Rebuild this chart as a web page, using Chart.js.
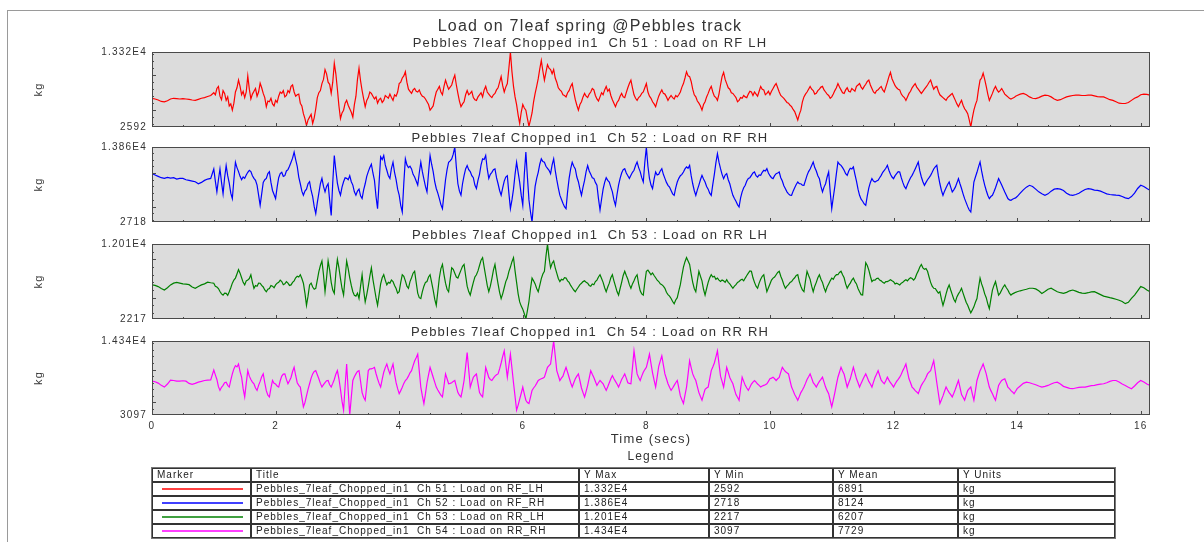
<!DOCTYPE html>
<html>
<head>
<meta charset="utf-8">
<title>Load on 7leaf spring @Pebbles track</title>
<script src="https://cdn.jsdelivr.net/npm/chart.js@4.4.1/dist/chart.umd.min.js"></script>
<style>
  body { margin: 0; width: 1204px; height: 542px; overflow: hidden; position: relative; background: #fff;
         font-family: 'Liberation Sans', Arial, sans-serif; color: #333; }
  #frame { position: absolute; left: 7px; top: 10px; width: 1300px; height: 600px;
           border-left: 1px solid #9a9a9a; border-top: 1px solid #9a9a9a; }
  .panel { position: absolute; left: 0; width: 1204px; }
  #legendTitle { position: absolute; left: 152px; top: 449px; width: 998px; text-align: center;
                 font-size: 12px; line-height: 14px; letter-spacing: 1.2px; }
  #stats { position: absolute; left: 151px; top: 467px; border-collapse: separate; border-spacing: 0;
           table-layout: fixed; border: 1px solid #777; font-size: 10px; letter-spacing: 1px; color: #222; }
  #stats td { border: 1px solid #333; height: 12px; line-height: 12px; padding: 0 0 0 4px;
              white-space: pre; overflow: hidden; }
  #stats svg { display: block; }
</style>
</head>
<body>
<div id="frame"></div>
<div class="panel" id="p0"><canvas id="c0"></canvas></div>
<div class="panel" id="p1"><canvas id="c1"></canvas></div>
<div class="panel" id="p2"><canvas id="c2"></canvas></div>
<div class="panel" id="p3"><canvas id="c3"></canvas></div>
<div id="legendTitle">Legend</div>
<table id="stats"></table>

<script>
// sample spacing of the logged channels (s)
var SAMPLE_STEP = 0.05;
// the *_mid arrays hold the in-between samples of the rough section, 1.025 s .. 13.975 s
var MID_START = 1.025;
var TIME_END = 16.15;
var timeTicks = [0, 0.5, 1, 1.5, 2, 2.5, 3, 3.5, 4, 4.5, 5, 5.5, 6, 6.5, 7, 7.5, 8,
                 8.5, 9, 9.5, 10, 10.5, 11, 11.5, 12, 12.5, 13, 13.5, 14, 14.5, 15, 15.5, 16];

var channelTitles = [
    'Pebbles_7leaf_Chopped_in1  Ch 51 : Load on RF_LH',
    'Pebbles_7leaf_Chopped_in1  Ch 52 : Load on RF_RH',
    'Pebbles_7leaf_Chopped_in1  Ch 53 : Load on RR_LH',
    'Pebbles_7leaf_Chopped_in1  Ch 54 : Load on RR_RH'
];
var channelColors = ['#ff0000', '#0000ff', '#008000', '#ff00ff'];
var yMax = [13320, 13860, 12010, 14340];
var yMin = [2592, 2718, 2217, 3097];
var yMean = [6891, 8124, 6207, 7729];
var yUnits = ['kg', 'kg', 'kg', 'kg'];

// kg, one value per SAMPLE_STEP, one row per second
var loadRF_LH = [
    6700, 6600, 6450, 6250, 6200, 6350, 6600, 6700, 6650, 6600, 6650, 6600, 6550, 6450, 6400, 6550, 6700, 6800, 6950, 7100,
    7500, 8100, 7000, 7800, 6400, 5600, 5000, 7600, 9300, 7200, 6800, 9900, 6600, 7700, 7000, 8850, 7400, 5500, 6200, 5900,
    6400, 7000, 7400, 6900, 7800, 8400, 7600, 7200, 6000, 4500, 2800, 4000, 3100, 5200, 7500, 8800, 10800, 9000, 7400, 11700,
    8000, 3800, 5000, 6400, 5200, 4000, 7000, 11000, 7800, 5500, 6800, 7400, 6600, 6000, 6700, 6400, 6900, 7300, 6400, 7000,
    8800, 9600, 10500, 8000, 7400, 8100, 7600, 7300, 6900, 6200, 5000, 5600, 7600, 8400, 7200, 9300, 8000, 8600, 10000, 7400,
    5500, 6200, 7800, 7400, 6800, 6400, 7200, 6900, 8400, 7300, 6800, 7400, 8200, 9800, 7600, 8800, 13320, 8400, 5800, 3100,
    5800, 5000, 2700, 4600, 7400, 9500, 12100, 9300, 11500, 10800, 10800, 9000, 7900, 7200, 6900, 7800, 8800, 6500, 5000, 6200,
    7400, 6800, 7600, 7900, 6600, 6900, 7200, 8400, 8000, 6500, 5500, 6400, 7400, 6800, 8200, 9300, 7200, 6400, 7000, 7600,
    8800, 7000, 6200, 5500, 7000, 7900, 7300, 6400, 7100, 6600, 6900, 7600, 8800, 10500, 9800, 8000, 6900, 6000, 5000, 6200,
    7400, 8400, 7000, 6400, 8600, 10400, 8800, 8000, 7400, 6800, 6400, 6700, 6900, 7300, 7600, 7600, 7000, 8400, 7900, 7400,
    7200, 8100, 8800, 7600, 6900, 6400, 6000, 5500, 4800, 3600, 5000, 6900, 7600, 8400, 7800, 7400, 8000, 8400, 7600, 7100,
    6900, 7800, 8800, 7900, 7400, 8200, 7600, 7900, 8400, 8800, 8000, 8700, 9300, 8100, 7400, 7900, 8400, 7600, 9000, 10400,
    9000, 8200, 7900, 7000, 6400, 7400, 8200, 8800, 8000, 7400, 8000, 8600, 9300, 8000, 8400, 7200, 6800, 6400, 7000, 7400,
    6400, 5500, 6400, 5200, 4500, 2592, 5000, 6400, 9300, 10300, 8400, 6400, 7400, 8400, 7600, 8100, 7300, 6900, 6600, 6800,
    7100, 7300, 7400, 7200, 6900, 6700, 6650, 6800, 7000, 7150, 7100, 6900, 6600, 6400, 6500, 6700, 6900, 7000, 7100, 7150,
    7150, 7100, 7100, 7150, 7150, 7050, 6950, 6900, 6900, 6700, 6500, 6400, 6200, 6000, 5950, 5950, 6100, 6400, 6700, 6900,
    7200, 7300, 7250, 7150
];
var loadRF_LH_mid = [
    7200, 8400, 6500, 7400, 6900, 5900, 6000, 8200, 8400, 7700, 7600, 8000, 7300, 8100, 7600, 8200, 6800, 6300, 6700, 5600,
    6100, 7600, 7800, 7100, 7500, 8600, 7000, 7300, 5600, 3800, 3600, 4400, 3900, 6800, 7800, 9400, 10200, 8700, 9000, 10200,
    5600, 4600, 6000, 5700, 4700, 5800, 9400, 9200, 6600, 6400, 7600, 7000, 6900, 6500, 6100, 7100, 6700, 6800, 7200, 7600,
    9000, 9900, 9000, 7700, 7900, 7700, 7900, 7000, 6600, 5800, 5300, 6700, 8000, 7600, 8400, 8600, 8300, 9400, 8600, 6300,
    5900, 7200, 7200, 7700, 6500, 6900, 7500, 7900, 7600, 7000, 7200, 7900, 9000, 8500, 8300, 11000, 10500, 6900, 4300, 4700,
    5300, 3800, 3600, 6200, 8400, 10900, 10600, 10400, 11000, 10200, 9600, 8200, 7700, 7100, 7500, 8400, 7600, 5700, 5800, 6900,
    7000, 7300, 8100, 7100, 6300, 7500, 7900, 7700, 7100, 6000, 6100, 7000, 6900, 7500, 8800, 8200, 6700, 6800, 7400, 8200,
    7600, 6700, 5900, 6300, 7500, 7400, 6900, 6800, 6800, 7100, 7200, 8300, 9600, 9900, 9100, 7200, 6300, 5600, 5800, 6900,
    8000, 7600, 6800, 7300, 9800, 9400, 8200, 7500, 7100, 6200, 6800, 7100, 6800, 7700, 7100, 7300, 7700, 8000, 7200, 7700,
    7700, 8500, 8200, 7100, 6700, 6100, 5700, 5100, 4200, 4400, 6200, 7300, 8000, 8000, 7300, 7800, 8300, 7900, 7300, 6700,
    7300, 8200, 8300, 7500, 7900, 7700, 8100, 7700, 8600, 8300, 8400, 9100, 8600, 7600, 7800, 8200, 7900, 8300, 9800, 9500,
    8500, 8000, 7300, 6800, 6900, 7700, 8500, 8300, 7700, 7700, 8300, 9000, 8600, 8300, 7700, 7000, 6600, 6800, 7200, 6900,
    5900, 6000, 5700, 4900, 3600, 3900, 5800, 8000, 9600, 9400, 7300, 6900, 8000, 7900, 7800, 7700, 7100, 6700, 6700, 7000
];
var loadRF_RH = [
    9900, 9700, 9500, 9300, 9200, 9350, 9250, 9300, 9100, 9200, 9200, 9000, 8900, 8800, 8700, 8400, 8600, 8900, 9100, 9200,
    10600, 7200, 10600, 6900, 11100, 8500, 6200, 11600, 10200, 9000, 9200, 10100, 10200, 9200, 8200, 5200, 8600, 9200, 10200, 7400,
    6200, 9300, 10100, 9600, 10500, 11600, 13100, 11000, 8400, 6700, 7600, 8700, 6500, 3960, 7000, 9200, 7200, 8400, 3700, 12600,
    8500, 6700, 8700, 9200, 9600, 8200, 6700, 7600, 6200, 8400, 10200, 11300, 8900, 4700, 12400, 12600, 10400, 9200, 11600, 9000,
    6700, 4200, 12100, 10800, 10600, 9400, 8200, 11600, 9100, 7200, 12600, 10200, 7700, 6200, 4700, 9000, 11600, 12100, 13860, 8400,
    6700, 9600, 11100, 10200, 9300, 7700, 9800, 12100, 12600, 9200, 10100, 10600, 8400, 6700, 8800, 9600, 4700, 7600, 11600, 8600,
    5200, 13100, 6000, 2718, 8000, 10100, 12100, 11600, 10700, 9900, 12100, 9000, 6700, 5500, 4700, 9200, 11600, 10600, 8700, 6700,
    8900, 11100, 9800, 9200, 8200, 4500, 7600, 9300, 8660, 7200, 5200, 8200, 10000, 10640, 9600, 9650, 10400, 11630, 10200, 8660,
    13800, 9200, 7670, 10150, 9800, 10640, 9200, 8170, 7400, 6680, 8660, 9600, 10150, 10900, 11140, 8400, 6680, 8200, 9650, 8660,
    7600, 6680, 9800, 12870, 10640, 9160, 9900, 8400, 6680, 5800, 4950, 7200, 8170, 9200, 9650, 10150, 9400, 9650, 10400, 10640,
    9600, 9160, 9900, 10150, 8800, 7670, 6900, 6680, 7800, 8660, 8400, 8170, 9650, 10600, 11630, 10300, 9160, 7180, 8400, 10150,
    4700, 8000, 11630, 11140, 10400, 9650, 10700, 10900, 8800, 6680, 5800, 5200, 7800, 9160, 8660, 8900, 9650, 10400, 11140, 9800,
    9160, 9900, 10150, 8600, 7670, 8800, 9650, 10600, 11630, 9400, 8170, 9000, 9650, 10600, 11140, 8400, 6680, 7800, 8660, 7180,
    7900, 9160, 7700, 6190, 5000, 4210, 8660, 10100, 11630, 9160, 7400, 6190, 6680, 7800, 9160, 8200, 7180, 6200, 5940, 6200,
    6500, 7000, 7500, 7900, 8170, 8000, 7600, 7200, 6900, 6680, 6900, 7300, 7600, 7670, 7600, 7400, 7000, 6750, 6680, 6800,
    7000, 7300, 7550, 7670, 7600, 7450, 7420, 7300, 7100, 6900, 6800, 6750, 6700, 6680, 6500, 6300, 6190, 6500, 7000, 7700,
    8170, 8000, 7700, 7420
];
var loadRF_RH_mid = [
    8800, 9000, 8600, 9300, 9600, 7000, 9000, 10800, 9500, 9400, 9700, 10400, 9600, 8900, 6700, 6900, 9000, 9900, 8600, 6800,
    7900, 9900, 9500, 10300, 11000, 12200, 12000, 9400, 7300, 7300, 8400, 7400, 5000, 5600, 8400, 8000, 8000, 5900, 8600, 10400,
    7400, 7900, 9300, 9000, 8700, 7200, 7300, 6600, 7500, 9500, 10800, 10000, 6500, 8600, 12000, 11200, 9600, 10700, 10100, 7600,
    5200, 8500, 11200, 11000, 9800, 8800, 10000, 10200, 8000, 10000, 11300, 8700, 7000, 5300, 6900, 10500, 11800, 12800, 10900, 7300,
    8400, 10600, 10500, 9600, 8200, 8900, 11200, 12000, 10600, 9800, 10500, 9300, 7400, 7800, 9400, 7000, 6000, 9800, 10100, 6700,
    9800, 9400, 4200, 5600, 9200, 11300, 11700, 11000, 10400, 11200, 10400, 7800, 6100, 5000, 7200, 10600, 11000, 9400, 7600, 7900,
    10200, 10300, 9300, 8600, 6200, 6100, 8600, 8900, 7900, 6000, 6800, 9200, 10500, 10000, 9200, 10100, 11100, 10800, 9300, 11600,
    11000, 8200, 9100, 9700, 10300, 9800, 8600, 7900, 6900, 7800, 9200, 9800, 10600, 10700, 9600, 7400, 7500, 9000, 9100, 8000,
    7000, 8300, 11500, 11600, 9800, 9700, 9000, 7500, 6200, 5300, 6300, 7800, 8800, 9300, 10000, 9600, 9700, 10100, 10300, 10000,
    9300, 9600, 10000, 9300, 8100, 7200, 6700, 7300, 8300, 8400, 8200, 8900, 10200, 11100, 10800, 9600, 8000, 7900, 9400, 7200,
    6400, 9900, 11300, 10800, 9900, 10300, 10600, 9800, 7600, 6100, 5400, 6600, 8600, 8800, 8800, 9300, 10100, 10700, 10400, 9400,
    9600, 10200, 9300, 8000, 8300, 9300, 10100, 11100, 10300, 8700, 8600, 9300, 10100, 10900, 9600, 7400, 7300, 8300, 7900, 7500,
    8500, 8400, 6900, 5600, 4500, 6400, 9400, 10900, 10300, 8200, 6700, 6500, 7200, 8500, 8700, 7700, 6700, 6000, 6100, 6300
];
var loadRR_LH = [
    6670, 6600, 6450, 6200, 6000, 6300, 6670, 6900, 7000, 6900, 6800, 6760, 6700, 6400, 6230, 6450, 6670, 6800, 7020, 6950,
    6890, 6400, 5800, 5340, 5560, 5780, 6900, 7560, 8670, 7600, 6670, 7300, 8000, 6230, 6500, 6890, 6400, 5780, 6200, 6500,
    6670, 7000, 7110, 6800, 6900, 6670, 7200, 7800, 8000, 6890, 4000, 6670, 6400, 6230, 8400, 9790, 5780, 9790, 7000, 5560,
    10010, 7500, 5340, 9790, 7600, 5780, 5200, 4890, 8000, 4450, 6500, 8900, 6200, 4000, 6800, 8000, 6670, 6900, 7110, 6200,
    5780, 8000, 7200, 6230, 7600, 8450, 5600, 4890, 6500, 7110, 8000, 6000, 4000, 7600, 9340, 6900, 5780, 8900, 8200, 7560,
    8600, 9340, 6500, 5340, 7000, 8000, 9200, 10230, 7800, 5780, 7500, 9340, 6800, 4890, 6300, 7560, 9000, 10230, 7000, 4450,
    3500, 2217, 4500, 7560, 6800, 5780, 7500, 8450, 12010, 8900, 9790, 8200, 7110, 7300, 7560, 7000, 6300, 5780, 6400, 6890,
    7200, 6900, 6500, 6700, 7300, 8000, 7000, 5780, 6900, 8000, 6500, 5340, 7000, 8450, 7400, 6230, 7200, 8000, 5900, 5340,
    8450, 8300, 8230, 7600, 7110, 6700, 6230, 5400, 4890, 4220, 5000, 6700, 9000, 10230, 9340, 7000, 5780, 8450, 7200, 5340,
    7000, 8000, 7800, 7560, 7110, 7200, 7340, 6800, 6230, 6700, 7110, 7400, 7560, 8200, 8450, 7000, 6230, 7400, 8000, 5780,
    6800, 7560, 8000, 8450, 7300, 6230, 6700, 7110, 7600, 8000, 6500, 5780, 8450, 7400, 5780, 7000, 8000, 7000, 5780, 6800,
    7560, 7800, 8000, 8450, 7600, 6230, 6900, 7560, 6800, 5780, 5340, 9560, 8600, 7110, 7300, 7560, 7200, 6890, 7100, 7340,
    7100, 6900, 6670, 7000, 7340, 7450, 7500, 7560, 8500, 9340, 8700, 8450, 7000, 6230, 5900, 5780, 4000, 5500, 6670, 5400,
    4450, 5500, 6230, 5000, 4000, 3020, 3800, 4890, 7560, 6230, 5000, 3560, 6000, 7110, 5340, 6000, 6670, 6000, 5340, 5600,
    5780, 5900, 6000, 6100, 6230, 6230, 6150, 5900, 5560, 5800, 6100, 6230, 6000, 5780, 5650, 5560, 5700, 5900, 6000, 5850,
    5700, 5600, 5560, 5650, 5750, 5780, 5600, 5400, 5200, 5110, 5000, 4900, 4800, 4670, 4500, 4220, 4400, 4900, 5340, 5900,
    6450, 6300, 6000, 5780
];
var loadRR_LH_mid = [
    6500, 6200, 5500, 5600, 5300, 6300, 7300, 8100, 8200, 7000, 7200, 7500, 7000, 6600, 6900, 6600, 6000, 6100, 6600, 6300,
    6900, 7300, 6700, 7100, 6600, 7000, 7600, 7700, 7500, 5600, 5200, 6900, 6100, 7300, 9200, 8000, 7600, 8600, 6000, 8200,
    8900, 6200, 7600, 8800, 6600, 5300, 5600, 6500, 6000, 5400, 7800, 7400, 5000, 5400, 7600, 7300, 7000, 7300, 6600, 5600,
    7000, 7800, 6500, 7100, 8200, 7000, 5000, 5800, 7000, 7700, 7000, 4800, 5800, 8800, 8000, 6100, 7400, 8700, 7700, 8100,
    9100, 7900, 5800, 6200, 7700, 8500, 9900, 9000, 6600, 6500, 8600, 8000, 5700, 5500, 7100, 8400, 9700, 8500, 5500, 3900,
    2900, 3300, 6200, 7200, 6200, 6600, 8100, 10400, 10200, 9500, 8900, 7500, 7400, 7600, 7200, 6600, 6000, 6100, 6700, 7100,
    7000, 6600, 6800, 7100, 7700, 7500, 6300, 6400, 7600, 7200, 5800, 6200, 7900, 7900, 6700, 6800, 7700, 6800, 5500, 7000,
    8600, 8000, 7900, 7300, 6800, 6500, 5700, 5200, 4500, 4700, 5900, 7900, 9700, 9800, 8100, 6200, 7200, 7800, 6100, 6200,
    7600, 7700, 7400, 7300, 7300, 7000, 7000, 6500, 6500, 7000, 7300, 7200, 7900, 8500, 7600, 6500, 6900, 7800, 6800, 6300,
    7300, 7700, 8300, 7800, 6700, 6500, 7000, 7400, 7900, 7100, 6000, 7200, 7900, 6500, 6500, 7600, 7400, 6300, 6400, 7200,
    7400, 8000, 8300, 8000, 6800, 6600, 7300, 7100, 6200, 5400, 7600, 9200, 7800, 7300, 7500, 7300, 7000, 7100, 7200, 7200,
    6800, 6800, 6900, 7200, 7200, 7600, 7300, 8100, 9000, 8900, 8800, 7700, 6500, 6200, 5600, 4800, 4700, 6200, 6000, 4800,
    5100, 5800, 5600, 4400, 3500, 3400, 4400, 6300, 6800, 5500, 4200, 4800, 6600, 6200, 5600, 6400, 6300, 5600, 5500, 5700
];
var loadRR_RH = [
    8240, 8150, 7940, 7600, 7340, 7800, 8400, 8340, 8240, 8240, 8300, 8240, 7900, 7740, 7900, 8090, 8200, 8340, 8400, 8440,
    9940, 8500, 6840, 7600, 8090, 7340, 9340, 10600, 10840, 8840, 5840, 9840, 8500, 7840, 6840, 8200, 9340, 6800, 5840, 8340,
    7800, 7340, 9000, 9340, 7840, 8800, 10340, 8000, 7340, 4340, 6000, 7840, 9340, 9840, 8600, 7340, 8000, 8340, 7340, 8500,
    9840, 7000, 3840, 10840, 3097, 8340, 9340, 9840, 6500, 5340, 9840, 10100, 10340, 8600, 7340, 9600, 10840, 9340, 10840, 8000,
    6340, 7300, 8340, 9000, 9840, 11300, 12340, 7340, 4840, 8000, 10340, 8840, 7340, 6500, 5840, 9340, 7840, 8000, 8340, 6500,
    5840, 8340, 12590, 7340, 8840, 9340, 6500, 5840, 10340, 8800, 8340, 9000, 9340, 11000, 12840, 8840, 12340, 8000, 3840, 5500,
    7340, 5340, 4840, 6840, 7500, 8340, 8600, 8840, 10340, 10840, 14340, 9840, 8340, 9000, 10340, 8800, 7340, 8600, 9340, 7200,
    5840, 7600, 9840, 8800, 7590, 8340, 7840, 6840, 8000, 9090, 8200, 7340, 8500, 9340, 8000, 7840, 12840, 9340, 8340, 9600,
    10340, 12340, 9500, 7340, 10500, 12090, 9340, 7840, 6840, 7600, 8340, 6000, 4840, 7340, 11340, 9340, 8340, 6500, 5340, 7000,
    7340, 9840, 11000, 12840, 9000, 7340, 10340, 8800, 7840, 6200, 5340, 8840, 7600, 6840, 7800, 8340, 7800, 7340, 7600, 7840,
    8600, 8840, 8340, 8800, 10340, 9700, 9340, 7340, 6200, 5340, 6500, 7340, 8500, 9340, 8000, 7340, 8200, 8840, 7340, 6340,
    4340, 6500, 8840, 10340, 9300, 7340, 8600, 10340, 8600, 7340, 8400, 9340, 8200, 7340, 8800, 9840, 8400, 7840, 8840, 8000,
    7340, 8200, 8840, 9840, 10840, 8600, 7340, 6800, 6340, 7600, 8340, 9340, 9840, 11340, 8000, 4840, 6000, 7340, 6500, 5840,
    7000, 8340, 6200, 5340, 6800, 7340, 5340, 8340, 9840, 10840, 9340, 7340, 6340, 5340, 7600, 8340, 8590, 7340, 6800, 6340,
    7100, 7500, 7900, 8090, 8000, 7840, 7700, 7500, 7340, 7450, 7590, 7800, 8000, 8090, 7800, 7450, 7300, 7150, 7090, 7200,
    7300, 7340, 7340, 7450, 7550, 7590, 7700, 7800, 7840, 8000, 8200, 8340, 8340, 8100, 7800, 7590, 7300, 7090, 7500, 8000,
    8340, 8100, 7800, 7590
];
var loadRR_RH_mid = [
    9200, 7400, 7300, 8000, 7600, 8400, 10100, 10400, 9700, 7100, 7900, 9000, 8100, 7200, 7600, 8900, 8000, 6100, 7200, 7900,
    7500, 8300, 9300, 8500, 8300, 9700, 9100, 7600, 5800, 5000, 7000, 8700, 9700, 9200, 7900, 7700, 8300, 7700, 7900, 9300,
    8600, 5200, 7500, 6800, 5800, 8900, 9700, 8200, 5800, 7500, 10100, 10200, 9400, 7900, 8500, 10300, 10000, 10100, 9300, 7100,
    6800, 7900, 8600, 9500, 10600, 11800, 9800, 6000, 6300, 9200, 9600, 8100, 6900, 6100, 7500, 8600, 7900, 8200, 7400, 6100,
    7000, 10400, 10000, 8100, 9100, 7900, 6100, 8000, 9600, 8500, 8700, 9200, 10100, 12000, 10800, 10600, 10200, 5900, 4600, 6400,
    6300, 5000, 5800, 7200, 7900, 8500, 8700, 9600, 10600, 12600, 12100, 9100, 8700, 9700, 9600, 8000, 8000, 9000, 8300, 6500,
    6700, 8700, 9300, 8200, 8000, 8100, 7300, 7400, 8600, 8600, 7800, 7900, 8900, 8700, 7900, 10300, 11100, 8800, 9000, 10000,
    11300, 10900, 8400, 8900, 11300, 10700, 8600, 7300, 7200, 8000, 7200, 5400, 6100, 9300, 10300, 8800, 7400, 5900, 6200, 7200,
    8600, 10400, 11900, 10900, 8200, 8800, 9600, 8300, 7000, 5800, 7100, 8200, 7200, 7300, 8100, 8100, 7600, 7500, 7700, 8200,
    8700, 8600, 8600, 9600, 10000, 9500, 8300, 6800, 5800, 5900, 6900, 7900, 8900, 8700, 7700, 7800, 8500, 8100, 6800, 5300,
    5400, 7700, 9600, 9800, 8300, 8000, 9500, 9500, 8000, 7900, 8900, 8800, 7800, 8100, 9300, 9100, 8100, 8300, 8400, 7700,
    7800, 8500, 9300, 10300, 9700, 8000, 7100, 6600, 7000, 8000, 8800, 9600, 10600, 9700, 6400, 5400, 6700, 6900, 6200, 6400,
    7700, 7300, 5800, 6100, 7100, 6300, 6800, 9100, 10300, 10100, 8300, 6800, 5800, 6500, 8000, 8500, 8000, 7100, 6600, 6700
];
var channelData = [loadRF_LH, loadRF_RH, loadRR_LH, loadRR_RH];
var channelMid = [loadRF_LH_mid, loadRF_RH_mid, loadRR_LH_mid, loadRR_RH_mid];

// canvas placement of each panel (page px)
var panelTop = [10, 117, 214, 311];
var panelHeight = [128, 116, 116, 140];

var TEXT_SPACING = '1.2px';
Chart.defaults.font.family = "'Liberation Sans', Arial, sans-serif";
Chart.defaults.color = '#333';

function yLabel(v) {
    return v >= 10000 ? (v / 10000).toFixed(3) + 'E4' : String(v);
}

function buildPoints(coarse, mid) {
    var pts = coarse.map(function(v, k) {
        return { x: +(k * SAMPLE_STEP).toFixed(3), y: v };
    });
    mid.forEach(function(v, k) {
        pts.push({ x: +(MID_START + k * SAMPLE_STEP).toFixed(3), y: v });
    });
    pts.sort(function(a, b) { return a.x - b.x; });
    return pts;
}

// grey plot box, dark border and the short inward tick marks
var plotFrame = {
    id: 'plotFrame',
    beforeLayout: function(chart) {
        chart.ctx.letterSpacing = TEXT_SPACING;
    },
    beforeDraw: function(chart) {
        var ctx = chart.ctx, a = chart.chartArea;
        ctx.letterSpacing = TEXT_SPACING;
        ctx.save();
        ctx.fillStyle = '#dcdcdc';
        ctx.fillRect(a.left, a.top, a.right - a.left, a.bottom - a.top);
        ctx.restore();
    },
    afterDraw: function(chart) {
        var ctx = chart.ctx, a = chart.chartArea;
        var xs = chart.scales.x, ys = chart.scales.y;
        ctx.save();
        ctx.strokeStyle = '#4a4a4a';
        ctx.lineWidth = 1;
        ctx.beginPath();
        xs.ticks.forEach(function(t) {
            var px = Math.round(xs.getPixelForValue(t.value)) + 0.5;
            var len = t.value % 2 === 0 ? 4 : 2;
            ctx.moveTo(px, a.bottom);
            ctx.lineTo(px, a.bottom - len);
        });
        ys.ticks.forEach(function(t) {
            if (t.value === ys.min || t.value === ys.max) return;
            var py = Math.round(ys.getPixelForValue(t.value)) + 0.5;
            var len = t.value % 5000 === 0 ? 4 : 2;
            ctx.moveTo(a.left, py);
            ctx.lineTo(a.left + len, py);
        });
        ctx.stroke();
        ctx.strokeRect(a.left + 0.5, a.top + 0.5, a.right - a.left - 1, a.bottom - a.top - 1);
        ctx.restore();
    }
};

function makePanel(i) {
    var isLast = i === channelData.length - 1;

    var wrap = document.getElementById('p' + i);
    wrap.style.top = panelTop[i] + 'px';
    wrap.style.height = panelHeight[i] + 'px';
    var canvas = document.getElementById('c' + i);
    canvas.width = 1204;
    canvas.height = panelHeight[i];

    var padTop = i === 0 ? 8 : 14;

    return new Chart(canvas, {
        type: 'line',
        data: {
            datasets: [{
                data: buildPoints(channelData[i], channelMid[i]),
                borderColor: channelColors[i],
                borderWidth: 1.2,
                pointRadius: 0,
                tension: 0,
                fill: false
            }]
        },
        options: {
            responsive: false,
            animation: false,
            events: [],
            layout: { padding: { top: padTop, left: 30, right: 54, bottom: isLast ? 2 : 8 } },
            plugins: {
                legend: { display: false },
                tooltip: { enabled: false },
                title: {
                    display: i === 0,
                    text: 'Load on 7leaf spring @Pebbles track',
                    font: { size: 16, weight: 'normal', lineHeight: '18px' },
                    color: '#333',
                    padding: { top: 0, bottom: 0 }
                },
                subtitle: {
                    display: true,
                    text: channelTitles[i].replace(/_/g, ' '),
                    font: { size: 13, lineHeight: '15px' },
                    color: '#333',
                    padding: { top: 0, bottom: 1 }
                }
            },
            scales: {
                x: {
                    type: 'linear',
                    min: 0,
                    max: TIME_END,
                    afterBuildTicks: function(s) {
                        s.ticks = timeTicks.map(function(v) { return { value: v }; });
                    },
                    grid: { display: false, drawTicks: false },
                    border: { display: false },
                    ticks: {
                        display: isLast,
                        autoSkip: false,
                        maxRotation: 0,
                        padding: 5,
                        font: { size: 10, lineHeight: '12px' },
                        color: '#333',
                        callback: function(v) { return v % 2 === 0 ? String(v) : ''; }
                    },
                    title: {
                        display: isLast,
                        text: 'Time (secs)',
                        font: { size: 13, lineHeight: '16px' },
                        color: '#333',
                        padding: { top: -6, bottom: 2 }
                    }
                },
                y: {
                    type: 'linear',
                    min: yMin[i],
                    max: yMax[i],
                    afterBuildTicks: function(s) {
                        var t = [{ value: yMin[i] }];
                        for (var v = Math.ceil(yMin[i] / 1000) * 1000; v < yMax[i]; v += 1000) {
                            if (v > yMin[i]) t.push({ value: v });
                        }
                        t.push({ value: yMax[i] });
                        s.ticks = t;
                    },
                    afterFit: function(s) { s.width = 122; },
                    grid: { display: false, drawTicks: false },
                    border: { display: false },
                    ticks: {
                        autoSkip: false,
                        padding: 5,
                        font: { size: 10, lineHeight: '12px' },
                        color: '#333',
                        callback: function(v) {
                            return (v === yMin[i] || v === yMax[i]) ? yLabel(v) : '';
                        }
                    },
                    title: {
                        display: true,
                        text: yUnits[i],
                        font: { size: 11, lineHeight: '13px' },
                        color: '#333',
                        padding: { top: 2, bottom: 0 }
                    }
                }
            }
        },
        plugins: [plotFrame]
    });
}

channelData.forEach(function(d, i) { makePanel(i); });

// statistics table under the plots
var SVG_NS = 'http://www.w3.org/2000/svg';
var colWidths = [99, 328, 130, 124, 125, 157];
var table = document.getElementById('stats');
var colgroup = document.createElement('colgroup');
colWidths.forEach(function(w) {
    var c = document.createElement('col');
    c.style.width = w + 'px';
    colgroup.appendChild(c);
});
table.appendChild(colgroup);
var tbody = document.createElement('tbody');
table.appendChild(tbody);

// short coloured sample of each channel's line
function markerLine(color) {
    var svg = document.createElementNS(SVG_NS, 'svg');
    svg.setAttribute('width', '88');
    svg.setAttribute('height', '12');
    var ln = document.createElementNS(SVG_NS, 'line');
    ln.setAttribute('x1', '5');
    ln.setAttribute('x2', '86');
    ln.setAttribute('y1', '6');
    ln.setAttribute('y2', '6');
    ln.setAttribute('stroke', color);
    ln.setAttribute('stroke-width', '2');
    ln.setAttribute('stroke-opacity', '0.75');
    svg.appendChild(ln);
    return svg;
}

function addRow(cells) {
    var tr = document.createElement('tr');
    cells.forEach(function(c) {
        var td = document.createElement('td');
        if (typeof c === 'string') td.textContent = c; else td.appendChild(c);
        tr.appendChild(td);
    });
    tbody.appendChild(tr);
}
addRow(['Marker', 'Title', 'Y Max', 'Y Min', 'Y Mean', 'Y Units']);
channelTitles.forEach(function(title, i) {
    addRow([markerLine(channelColors[i]), title, yLabel(yMax[i]), String(yMin[i]), String(yMean[i]), yUnits[i]]);
});
</script>
</body>
</html>
